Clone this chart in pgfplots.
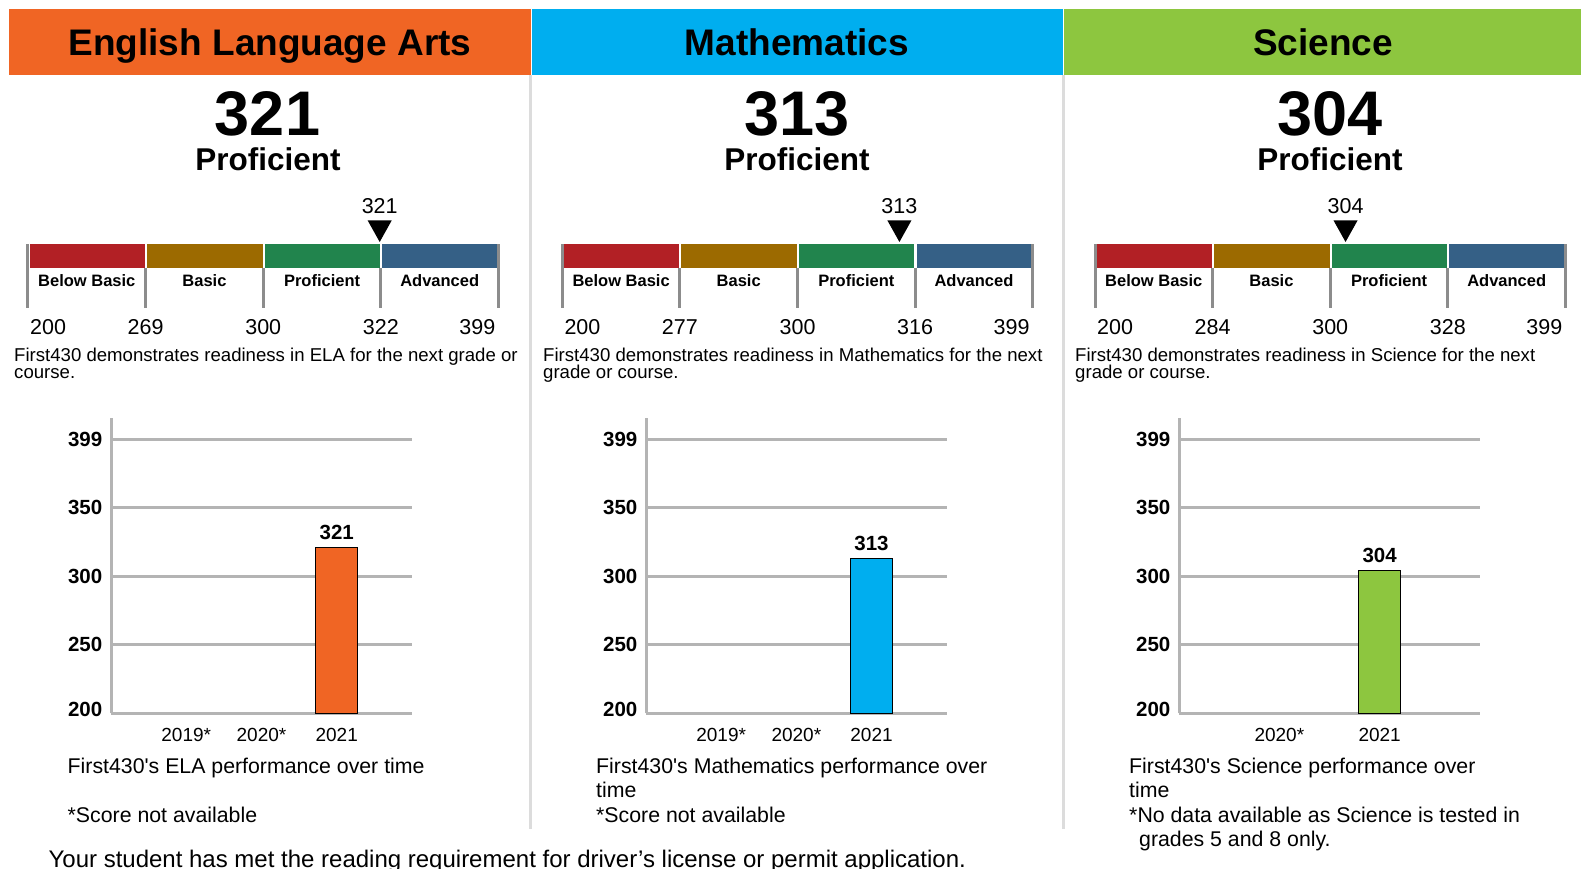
\documentclass[border=0pt]{standalone}
\usepackage{fontspec}
\setmainfont{Liberation Sans}
\usepackage{pgfplots}
\pgfplotsset{compat=1.18}
\definecolor{elaC}{HTML}{F06524}
\definecolor{matC}{HTML}{00AEEF}
\definecolor{sciC}{HTML}{8DC63F}
\definecolor{bbC}{HTML}{B22025}
\definecolor{baC}{HTML}{9C6A00}
\definecolor{prC}{HTML}{21844D}
\definecolor{adC}{HTML}{356086}
\definecolor{gridC}{HTML}{B4B4B4}
\definecolor{tickC}{HTML}{8C8C8C}
\definecolor{sepC}{HTML}{DCDCDC}
\newcommand\fs[2]{\fontsize{#1}{#2}\selectfont}
\pgfdeclareplotmark{dtri}{%
  \pgfpathmoveto{\pgfqpoint{0pt}{0pt}}%
  \pgfpathlineto{\pgfqpoint{-12pt}{21.5pt}}%
  \pgfpathlineto{\pgfqpoint{12pt}{21.5pt}}%
  \pgfpathclose\pgfusepathqfill}

% #1 left x, #2 second cut, #3 fourth cut, #4 marker position, #5 score
\newcommand\scalebar[5]{%
\begin{axis}[at={(#1pt,-267.7pt)}, anchor=south west, scale only axis,
  width=470.5pt, height=23.7pt, xmin=0, xmax=4, ymin=0, ymax=1,
  hide axis, clip=false]
  \draw[tickC, line width=3pt] (axis cs:0,1) -- (axis cs:0,-1.70);
  \draw[tickC, line width=3pt] (axis cs:1,0) -- (axis cs:1,-1.70);
  \draw[tickC, line width=3pt] (axis cs:2,0) -- (axis cs:2,-1.70);
  \draw[tickC, line width=3pt] (axis cs:3,0) -- (axis cs:3,-1.70);
  \draw[tickC, line width=3pt] (axis cs:4,1) -- (axis cs:4,-1.70);
  \addplot[draw=none, fill=bbC] coordinates {(0.013,1) (0.994,1)} \closedcycle;
  \addplot[draw=none, fill=baC] coordinates {(1.013,1) (1.994,1)} \closedcycle;
  \addplot[draw=none, fill=prC] coordinates {(2.013,1) (2.994,1)} \closedcycle;
  \addplot[draw=none, fill=adC] coordinates {(3.013,1) (3.987,1)} \closedcycle;
  \node[anchor=base, inner sep=0pt, font=\fs{16.5}{18}\bfseries] at (axis cs:0.5,-0.80) {Below Basic};
  \node[anchor=base, inner sep=0pt, font=\fs{16.5}{18}\bfseries] at (axis cs:1.5,-0.80) {Basic};
  \node[anchor=base, inner sep=0pt, font=\fs{16.5}{18}\bfseries] at (axis cs:2.5,-0.80) {Proficient};
  \node[anchor=base, inner sep=0pt, font=\fs{16.5}{18}\bfseries] at (axis cs:3.5,-0.80) {Advanced};
  \node[anchor=base west, inner sep=0pt, font=\fs{21.5}{24}, xshift=2pt] at (axis cs:0,-2.80) {200};
  \node[anchor=base, inner sep=0pt, font=\fs{21.5}{24}] at (axis cs:1,-2.80) {#2};
  \node[anchor=base, inner sep=0pt, font=\fs{21.5}{24}] at (axis cs:2,-2.80) {300};
  \node[anchor=base, inner sep=0pt, font=\fs{21.5}{24}] at (axis cs:3,-2.80) {#3};
  \node[anchor=base east, inner sep=0pt, font=\fs{21.5}{24}, xshift=-3pt] at (axis cs:4,-2.80) {399};
  \addplot[only marks, mark=dtri, black, point meta=explicit symbolic,
    nodes near coords,
    every node near coord/.append style={anchor=base, inner sep=0pt, yshift=28pt, font=\fs{21.5}{24}, text=black}]
    coordinates {(#4,1.085) [#5]};
\end{axis}}

\pgfplotsset{scorechart/.style={anchor=south west, scale only axis,
  height=295pt, ymin=200, ymax=415.1, ybar, bar width=42pt,
  ytick={200,250,300,350,400},
  yticklabels={\raisebox{8.5pt}{200},250,300,350,399},
  axis x line=bottom, axis y line=left,
  axis line style={draw=gridC, line width=3pt, -},
  ymajorgrids, grid style={draw=gridC, line width=3pt},
  major tick length=0pt,
  /pgf/number format/assume math mode=true,
  yticklabel style={font=\fs{20.5}{22}\bfseries, inner sep=0pt, anchor=east, xshift=-8.5pt},
  xticklabel style={font=\fs{19}{21}, inner sep=0pt, anchor=north, yshift=-15pt},
  nodes near coords,
  every node near coord/.append style={font=\fs{20.5}{22}\bfseries, inner sep=0pt, anchor=south, yshift=7pt, text=black}}}

\begin{document}
\begin{tikzpicture}
\useasboundingbox (0pt,0pt) rectangle (1581pt,-869pt);
\begin{scope}[x=1pt,y=-1pt]
\fill[elaC] (9,9) rectangle (531,75);
\fill[matC] (532,9) rectangle (1062.5,75);
\fill[sciC] (1064,9) rectangle (1581,75);
\draw[sepC, line width=3pt] (530.5,75) -- (530.5,829);
\draw[sepC, line width=3pt] (1063,75) -- (1063,829);
\node[anchor=base, inner sep=0pt, font=\fs{37}{40}\bfseries] at (270,55.5) {English Language Arts};
\node[anchor=base, inner sep=0pt, font=\fs{37}{40}\bfseries] at (797,55.5) {Mathematics};
\node[anchor=base, inner sep=0pt, font=\fs{37}{40}\bfseries] at (1323,55.5) {Science};
\node[anchor=base, inner sep=0pt, font=\fs{63}{70}\bfseries] at (267.5,135.5) {321};
\node[anchor=base, inner sep=0pt, font=\fs{63}{70}\bfseries] at (797,135.5) {313};
\node[anchor=base, inner sep=0pt, font=\fs{63}{70}\bfseries] at (1330,135.5) {304};
\node[anchor=base, inner sep=0pt, font=\fs{31.5}{36}\bfseries] at (268,171) {Proficient};
\node[anchor=base, inner sep=0pt, font=\fs{31.5}{36}\bfseries] at (797,171) {Proficient};
\node[anchor=base, inner sep=0pt, font=\fs{31.5}{36}\bfseries] at (1330,171) {Proficient};
% descriptions
\node[anchor=base west, inner sep=0pt, font=\fs{18.6}{20}] at (14,361) {First430 demonstrates readiness in ELA for the next grade or};
\node[anchor=base west, inner sep=0pt, font=\fs{18.6}{20}] at (14,378.5) {course.};
\node[anchor=base west, inner sep=0pt, font=\fs{18.6}{20}] at (543,361) {First430 demonstrates readiness in Mathematics for the next};
\node[anchor=base west, inner sep=0pt, font=\fs{18.6}{20}] at (543,378.5) {grade or course.};
\node[anchor=base west, inner sep=0pt, font=\fs{18.6}{20}] at (1075,361) {First430 demonstrates readiness in Science for the next};
\node[anchor=base west, inner sep=0pt, font=\fs{18.6}{20}] at (1075,378.5) {grade or course.};
% chart notes
\node[anchor=base west, inner sep=0pt, font=\fs{21.3}{24}] at (67.5,773) {First430\textquotesingle s ELA performance over time};
\node[anchor=base west, inner sep=0pt, font=\fs{21.3}{24}] at (67.5,822) {*Score not available};
\node[anchor=base west, inner sep=0pt, font=\fs{21.3}{24}] at (596,773) {First430\textquotesingle s Mathematics performance over};
\node[anchor=base west, inner sep=0pt, font=\fs{21.3}{24}] at (596,797.5) {time};
\node[anchor=base west, inner sep=0pt, font=\fs{21.3}{24}] at (596,822) {*Score not available};
\node[anchor=base west, inner sep=0pt, font=\fs{21.3}{24}] at (1129,773) {First430\textquotesingle s Science performance over};
\node[anchor=base west, inner sep=0pt, font=\fs{21.3}{24}] at (1129,797.5) {time};
\node[anchor=base west, inner sep=0pt, font=\fs{21.3}{24}] at (1129,822) {*No data available as Science is tested in};
\node[anchor=base west, inner sep=0pt, font=\fs{21.3}{24}] at (1139,846.5) {grades 5 and 8 only.};
\node[anchor=base west, inner sep=0pt, font=\fs{24}{26}] at (48.4,867) {Your student has met the reading requirement for driver’s license or permit application.};
\end{scope}

% performance level scales
\scalebar{28}{269}{322}{2.99}{321}
\scalebar{562.3}{277}{316}{2.866}{313}
\scalebar{1095}{284}{328}{2.13}{304}

% bar charts
\begin{axis}[scorechart, at={(111pt,-713.3pt)}, width=301pt,
  xmin=0, xmax=4, xtick={1,2,3}, xticklabels={2019*,2020*,2021}]
  \addplot[fill=elaC, draw=black, line width=1.2pt] coordinates {(3,321)};
\end{axis}
\begin{axis}[scorechart, at={(646pt,-713.3pt)}, width=300.7pt,
  xmin=0, xmax=4, xtick={1,2,3}, xticklabels={2019*,2020*,2021}]
  \addplot[fill=matC, draw=black, line width=1.2pt] coordinates {(3,313)};
\end{axis}
\begin{axis}[scorechart, at={(1179pt,-713.3pt)}, width=301pt,
  xmin=0, xmax=3, xtick={1,2}, xticklabels={2020*,2021}]
  \addplot[fill=sciC, draw=black, line width=1.2pt] coordinates {(2,304)};
\end{axis}
\end{tikzpicture}
\end{document}
